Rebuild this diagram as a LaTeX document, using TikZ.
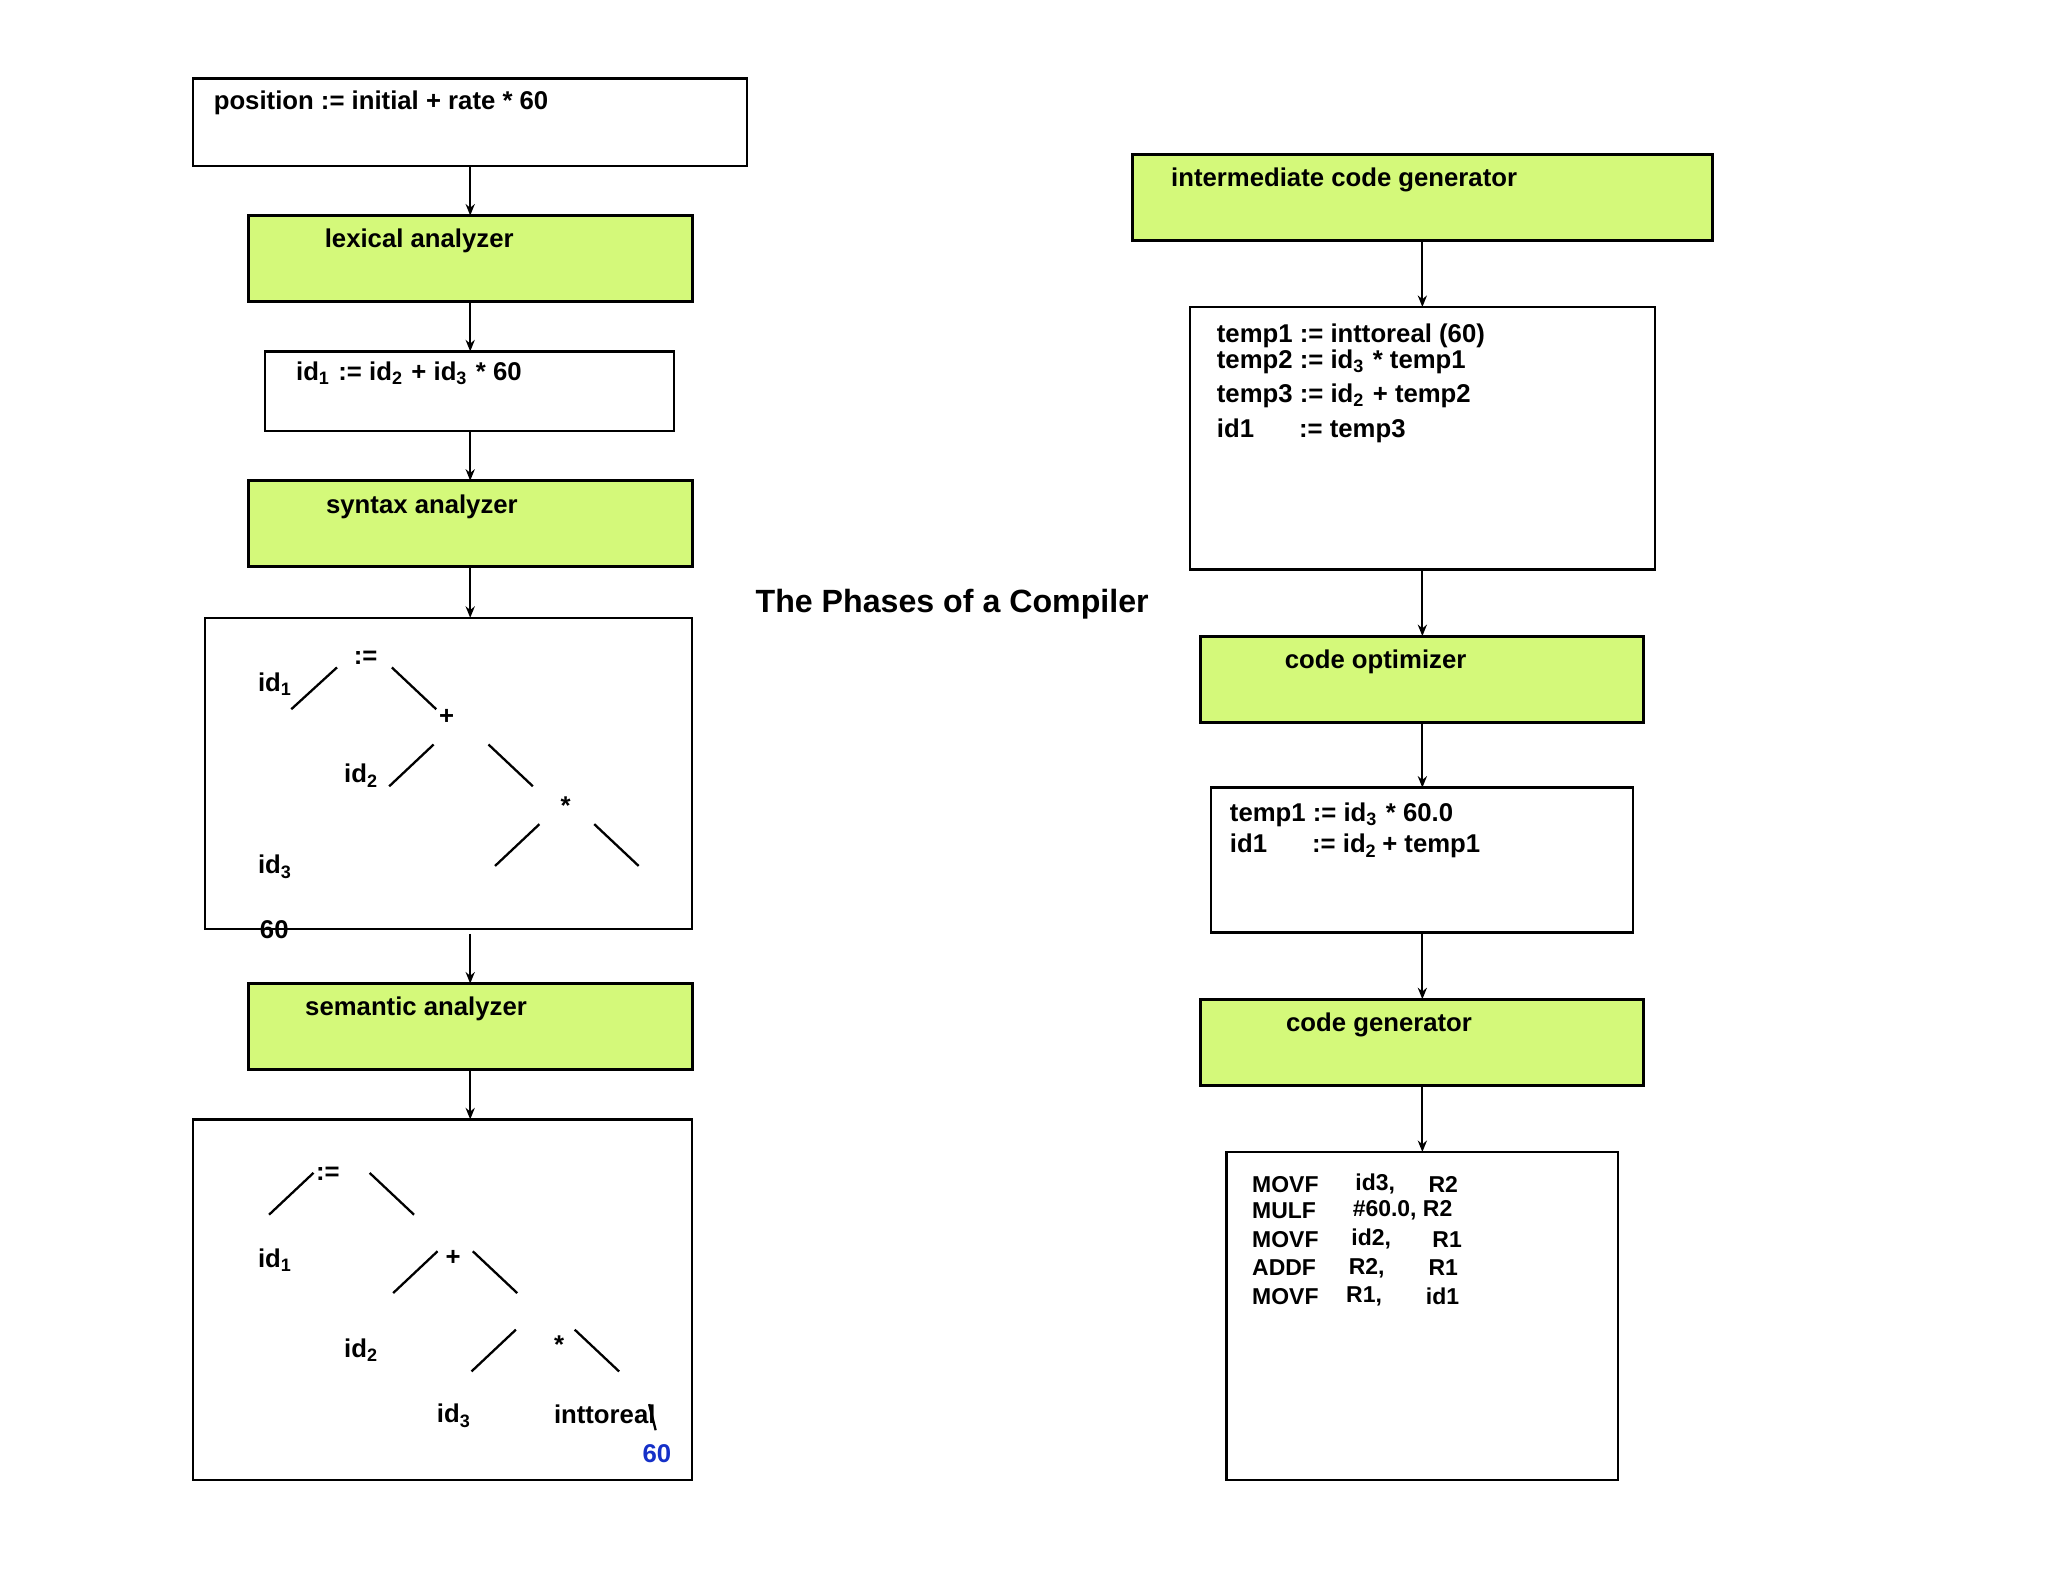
\documentclass[tikz,border=0pt]{standalone}
\usepackage{fontspec}
\setmainfont{Liberation Sans}
\usetikzlibrary{arrows.meta}
\definecolor{lgreen}{HTML}{D4F97A}
\definecolor{vblue}{HTML}{1530C8}
\begin{document}
\begin{tikzpicture}[x=0.01cm,y=-0.01cm,
  box/.style={draw,line width=0.5pt},
  gbox/.style={draw,line width=0.65pt,fill=lgreen},
  t/.style={anchor=west,inner sep=0pt,yshift=-0.5pt,font=\fontsize{5.6}{6.6}\selectfont\bfseries},
  tc/.style={anchor=center,inner sep=0pt,yshift=-0.5pt,font=\fontsize{5.6}{6.6}\selectfont\bfseries},
  arr/.style={-{Stealth[length=2.5pt,width=2pt]},line width=0.4pt},
  tl/.style={line width=0.5pt}]
\useasboundingbox (0,0) rectangle (1568,1211);
% left column
\draw[box] (148,60) rectangle (572,127);
\coordinate (b1s) at (360,127);
\node[t] at (163,77) {position := initial + rate * 60};
\draw[gbox] (190,165) rectangle (530,231);
\coordinate (l1n) at (360,165); \coordinate (l1s) at (360,231);
\node[t] at (248,183) {lexical analyzer};
\draw[box] (203,269) rectangle (516,330);
\coordinate (b2n) at (360,269); \coordinate (b2s) at (360,330);
\node[t] at (226,284) {id\textsubscript{1} := id\textsubscript{2} + id\textsubscript{3} * 60};
\draw[gbox] (190,368) rectangle (530,434);
\coordinate (s1n) at (360,368); \coordinate (s1s) at (360,434);
\node[t] at (249,386) {syntax analyzer};
\draw[box] (157,473) rectangle (530,711);
\coordinate (b3n) at (360,473); \coordinate (b3s) at (360,715);
\draw[gbox] (190,753) rectangle (530,819);
\coordinate (m1n) at (360,753); \coordinate (m1s) at (360,819);
\node[t] at (233,771) {semantic analyzer};
\draw[box] (148,857) rectangle (530,1133);
\coordinate (b4n) at (360,857);
\draw[arr] (b1s)--(l1n); \draw[arr] (l1s)--(b2n); \draw[arr] (b2s)--(s1n);
\draw[arr] (s1s)--(b3n); \draw[arr] (b3s)--(m1n); \draw[arr] (m1s)--(b4n);
% tree 1
\node[tc] at (280,502) {:=};
\node[tc] at (211,522) {id\textsubscript{1}};
\draw[tl] (223,543)--(258,511); \draw[tl] (300,511)--(334,543);
\node[tc] at (342,547) {+};
\node[tc] at (277,592) {id\textsubscript{2}};
\draw[tl] (298,602)--(332,570); \draw[tl] (374,570)--(408,602);
\node[tc] at (433,615) {*};
\draw[tl] (379,663)--(413,631); \draw[tl] (455,631)--(489,663);
\node[tc] at (211,662) {id\textsubscript{3}};
\node[tc] at (210,710) {60};
% tree 2
\node[tc] at (251,897) {:=};
\draw[tl] (206,930)--(240,898); \draw[tl] (283,898)--(317,930);
\node[tc] at (211,963) {id\textsubscript{1}};
\node[tc] at (347,961) {+};
\draw[tl] (301,990)--(335,958); \draw[tl] (362,958)--(396,990);
\node[tc] at (277,1032) {id\textsubscript{2}};
\draw[tl] (361,1050)--(395,1018); \draw[tl] (440,1018)--(474,1050);
\node[tc] at (428,1028) {*};
\node[tc] at (348,1082) {id\textsubscript{3}};
\node[tc] at (463,1081) {inttoreal};
\draw[tl] (497,1075)--(502,1095);
\node[tc,text=vblue] at (503,1111) {60};
% title
\node[tc,font=\fontsize{7.0}{8.4}\selectfont\bfseries] at (729,461) {The Phases of a Compiler};
% right column
\draw[gbox] (867,118) rectangle (1311,184);
\coordinate (r1s) at (1089,184);
\node[t] at (896,136) {intermediate code generator};
\draw[box] (911,235) rectangle (1267,436);
\coordinate (r2n) at (1089,235); \coordinate (r2s) at (1089,436);
\node[t] at (931,255) {temp1 := inttoreal (60)};
\node[t] at (931,275) {temp2 := id\textsubscript{3} * temp1};
\node[t] at (931,301) {temp3 := id\textsubscript{2} + temp2};
\node[t] at (931,328) {id1\hspace{1.75em}:= temp3};
\draw[gbox] (919,487) rectangle (1258,553);
\coordinate (r3n) at (1089,487); \coordinate (r3s) at (1089,553);
\node[t] at (983,505) {code optimizer};
\draw[box] (927,603) rectangle (1250,714);
\coordinate (r4n) at (1089,603); \coordinate (r4s) at (1089,714);
\node[t] at (941,622) {temp1 := id\textsubscript{3} * 60.0};
\node[t] at (941,646) {id1\hspace{1.75em}:= id\textsubscript{2}\,+ temp1};
\draw[gbox] (919,765) rectangle (1258,831);
\coordinate (r5n) at (1089,765); \coordinate (r5s) at (1089,831);
\node[t] at (984,783) {code generator};
\draw[box] (939,882) rectangle (1239,1133);
\coordinate (r6n) at (1089,882);
\begin{scope}[every node/.style={t,font=\fontsize{5}{6}\selectfont\bfseries}]
\node at (958,905) {MOVF}; \node at (1037,905) {id3,}; \node at (1093,905) {R2};
\node at (958,925) {MULF}; \node at (1035,925) {\#60.0, R2};
\node at (958,947) {MOVF}; \node at (1034,947) {id2,}; \node at (1096,947) {R1};
\node at (958,969) {ADDF}; \node at (1032,969) {R2,}; \node at (1093,969) {R1};
\node at (958,991) {MOVF}; \node at (1030,991) {R1,}; \node at (1091,991) {id1};
\end{scope}
\draw[arr] (r1s)--(r2n); \draw[arr] (r2s)--(r3n); \draw[arr] (r3s)--(r4n);
\draw[arr] (r4s)--(r5n); \draw[arr] (r5s)--(r6n);
\end{tikzpicture}
\end{document}
